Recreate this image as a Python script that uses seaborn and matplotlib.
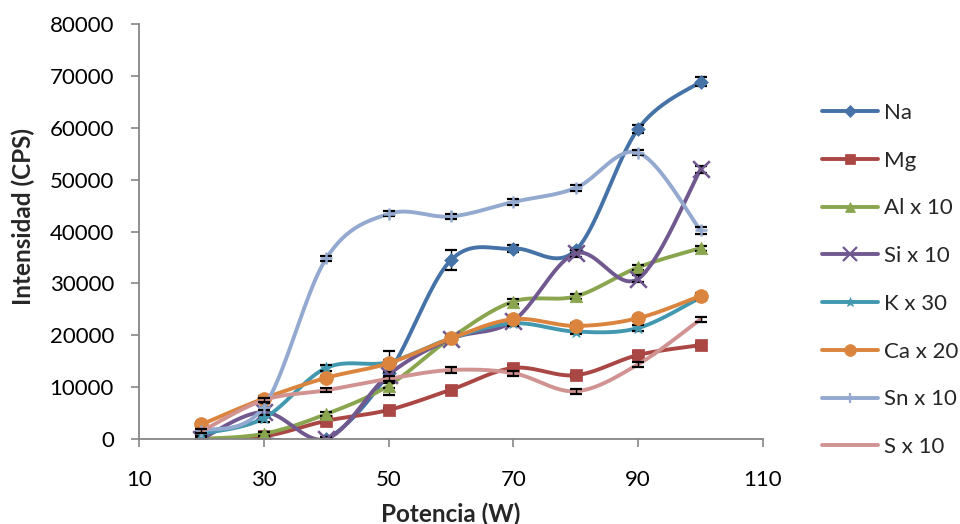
import numpy as np
import pandas as pd
import matplotlib
matplotlib.use("Agg")
import matplotlib.pyplot as plt
import seaborn as sns
from matplotlib.lines import Line2D

# ---------------- data ----------------
potencia = [20, 30, 40, 50, 60, 70, 80, 90, 100]
series_names = ["Na", "Mg", "Al x 10", "Si x 10", "K x 30", "Ca x 20", "Sn x 10", "S x 10"]

na = [0, 0, 0, 12700, 34500, 36700, 36400, 59800, 68900]
mg = [0, 500, 3500, 5600, 9500, 13700, 12300, 16200, 18100]
al = [0, 1000, 4800, 10300, 19500, 26500, 27500, 33100, 36800]
si = [0, 5200, 0, 12400, 19300, 22800, 35800, 30900, 52000]
k = [1000, 4000, 13700, 14800, 19400, 22300, 20700, 21400, 27300]
ca = [2800, 7800, 11800, 14600, 19400, 23100, 21800, 23300, 27600]
sn = [1600, 6200, 34800, 43400, 42900, 45700, 48400, 55200, 40200]
s = [1500, 7500, 9400, 11600, 13300, 12700, 9200, 14400, 23100]

na_err = [400, 400, 400, 4200, 1900, 700, 500, 800, 900]
mg_err = [400, 400, 400, 400, 500, 500, 500, 500, 500]
al_err = [400, 400, 400, 500, 500, 500, 500, 500, 500]
si_err = [400, 1000, 400, 500, 500, 500, 700, 700, 700]
k_err = [400, 700, 500, 500, 500, 500, 500, 500, 500]
ca_err = [400, 400, 400, 500, 500, 500, 500, 500, 500]
sn_err = [400, 700, 500, 500, 500, 500, 500, 500, 600]
s_err = [400, 400, 400, 500, 500, 500, 500, 500, 500]

values = [na, mg, al, si, k, ca, sn, s]
errors = [na_err, mg_err, al_err, si_err, k_err, ca_err, sn_err, s_err]

colors = ["#4572A7", "#AA4643", "#89A54E", "#71588F", "#4198AF", "#DB843D", "#93A9CF", "#D19392"]
markers = ["D", "s", "^", "x", "*", "o", "+", None]
msizes = [7, 8, 9, 12, 9, 10, 9, 0]

# ---------------- helpers ----------------
def smooth_curve(x, y, n=40):
    """Excel-like smoothed line (Bezier through the points)."""
    pts = np.column_stack([x, y]).astype(float)
    P = np.vstack([pts[0], pts, pts[-1]])
    out = []
    t = np.linspace(0, 1, n)[:, None]
    for i in range(1, len(P) - 2):
        p0, p1, p2, p3 = P[i - 1], P[i], P[i + 1], P[i + 2]
        c1 = p1 + (p2 - p0) / 6.0
        c2 = p2 - (p3 - p1) / 6.0
        seg = (1 - t) ** 3 * p1 + 3 * (1 - t) ** 2 * t * c1 + 3 * (1 - t) * t ** 2 * c2 + t ** 3 * p2
        out.append(seg if i == 1 else seg[1:])
    return np.vstack(out)

# ---------------- plot ----------------
sns.set_theme(style="white")
plt.rcParams["font.family"] = ["Lato", "DejaVu Sans"]

fig = plt.figure(figsize=(9.6, 5.24), dpi=100)
ax = fig.add_axes([139 / 960, 1 - 439 / 524, (763 - 139) / 960, (439 - 24) / 524])

handles = []
for i, (name, vals, err) in enumerate(zip(series_names, values, errors)):
    c = colors[i]
    sm = smooth_curve(potencia, vals)
    dfs = pd.DataFrame({"x": sm[:, 0], "y": sm[:, 1]})
    sns.lineplot(data=dfs, x="x", y="y", sort=False, estimator=None, color=c,
                 linewidth=2.8, ax=ax, zorder=2 + i * 0.1)
    ax.errorbar(potencia, vals, yerr=err, fmt="none", ecolor="black",
                elinewidth=1.0, capsize=4.5, capthick=1.6, zorder=2 + i * 0.1 + 0.02)
    dfp = pd.DataFrame({"x": potencia, "y": vals})
    if markers[i] is not None:
        if markers[i] in ("x", "+"):
            sns.scatterplot(data=dfp, x="x", y="y", marker=markers[i], color=c,
                            s=msizes[i] ** 2, linewidth=1.8, ax=ax, zorder=2 + i * 0.1 + 0.05)
        else:
            sns.scatterplot(data=dfp, x="x", y="y", marker=markers[i], color=c,
                            s=msizes[i] ** 2, edgecolor=c, linewidth=0.5, ax=ax,
                            zorder=2 + i * 0.1 + 0.05)
    mk = markers[i] if markers[i] is not None else "None"
    handles.append(Line2D([0], [0], color=c, lw=2.8, marker=mk, markersize=msizes[i] * 0.85,
                          markeredgewidth=1.6 if mk in ("x", "+") else 0.5,
                          markerfacecolor=c, markeredgecolor=c, label=name))

ax.set_xlim(10, 110)
ax.set_ylim(0, 80000)
ax.set_xticks([10, 30, 50, 70, 90, 110])
ax.set_yticks(np.arange(0, 80001, 10000))
ax.set_xticklabels(["10", "30", "50", "70", "90", "110"])
ax.set_yticklabels([str(v) for v in range(0, 80001, 10000)])

for sp in ["top", "right"]:
    ax.spines[sp].set_visible(False)
for sp in ["left", "bottom"]:
    ax.spines[sp].set_color("#868686")
    ax.spines[sp].set_linewidth(1.3)

ax.tick_params(axis="y", which="major", direction="out", length=6, width=1.2,
               color="#868686", labelsize=16, pad=12, left=True, labelcolor="black")
ax.tick_params(axis="x", which="major", direction="out", length=6, width=1.2,
               color="#868686", labelsize=16, pad=16, bottom=True, labelcolor="black")

ax.set_xlabel("Potencia (W)", fontsize=17.5, fontweight="bold")
ax.set_ylabel("Intensidad (CPS)", fontsize=17.5, fontweight="bold")
ax.xaxis.set_label_coords(0.5, -0.153)
ax.yaxis.set_label_coords(-0.166, 0.535)
ax.grid(False)

fig.legend(handles=handles, loc="center left", bbox_to_anchor=(822 / 960, 1 - 280 / 524),
           frameon=False, fontsize=16, labelspacing=1.25, handlelength=2.5,
           handletextpad=0.3, borderpad=0, borderaxespad=0)

fig.savefig("out.png", dpi=100)
